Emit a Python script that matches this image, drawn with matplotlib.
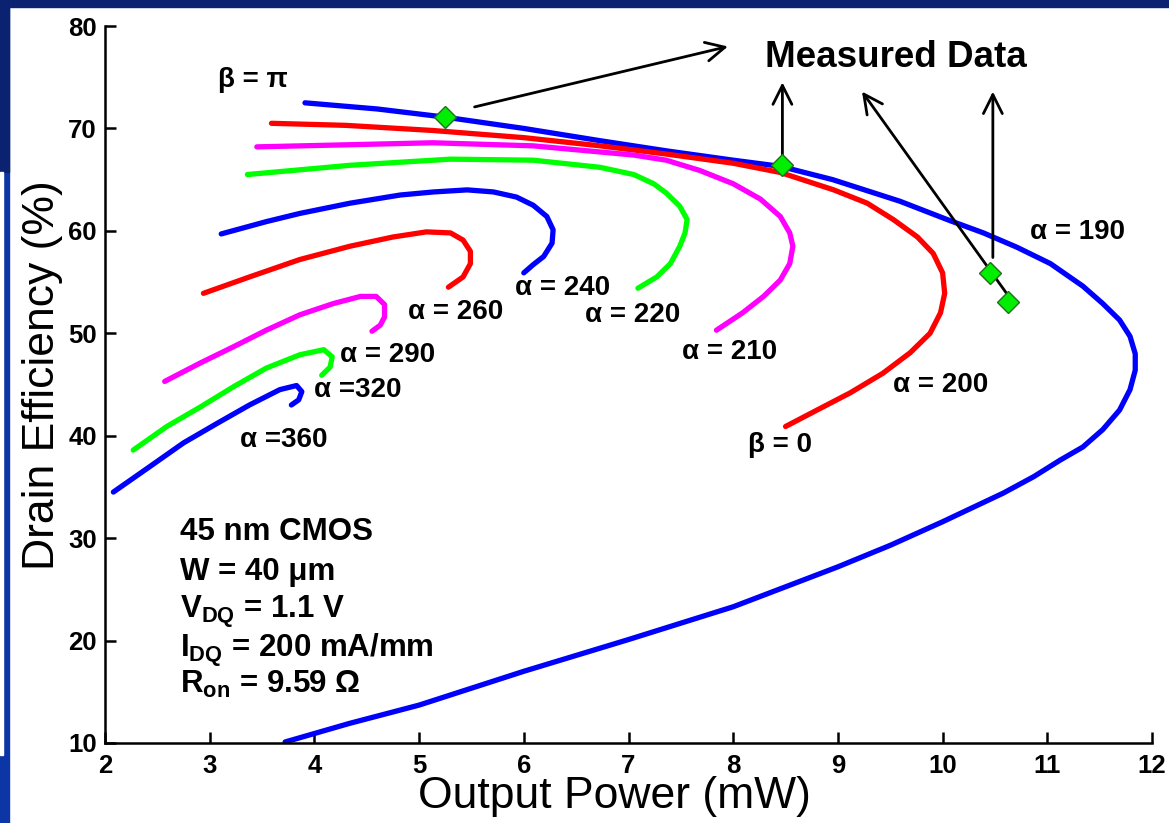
import matplotlib
matplotlib.use("Agg")
import matplotlib.pyplot as plt
from matplotlib.patches import Rectangle

plt.rcParams['font.family'] = ['Liberation Sans', 'DejaVu Sans']
plt.rcParams['mathtext.fontset'] = 'custom'
plt.rcParams['mathtext.rm'] = 'Liberation Sans'
plt.rcParams['mathtext.bf'] = 'Liberation Sans:bold'
plt.rcParams['mathtext.it'] = 'Liberation Sans:italic'

# curves: output power (mW) / drain efficiency (%)
a190_x = [3.91, 4.6, 5.25, 6.0, 6.73, 7.37, 8.0, 8.45, 8.95, 9.59, 10.07, 10.39, 10.71, 11.03,
          11.34, 11.53, 11.69, 11.79, 11.84, 11.84, 11.79, 11.69, 11.53, 11.34, 11.12, 10.87,
          10.58, 10.0, 9.5, 9.0, 8.0, 7.0, 6.0, 5.0, 4.33, 3.72]
a190_y = [72.5, 71.9, 71.1, 70.0, 68.8, 67.8, 66.9, 66.3, 65.0, 62.9, 61.0, 59.8, 58.4, 56.8,
          54.6, 52.9, 51.3, 49.7, 48.0, 46.4, 44.5, 42.5, 40.6, 38.9, 37.6, 36.0,
          34.4, 31.6, 29.3, 27.2, 23.3, 20.1, 17.0, 13.7, 11.9, 10.1]

a200_x = [3.59, 4.3, 5.13, 6.0, 6.73, 7.36, 8.0, 8.45, 8.96, 9.28, 9.53, 9.76, 9.91, 10.0,
          10.02, 9.98, 9.88, 9.69, 9.43, 9.12, 8.8, 8.5]
a200_y = [70.5, 70.3, 69.8, 69.1, 68.3, 67.5, 66.6, 65.7, 64.0, 62.7, 61.1, 59.4, 57.8, 55.9,
          53.9, 52.0, 50.0, 48.1, 46.1, 44.2, 42.5, 40.9]

a210_x = [3.45, 4.3, 5.13, 6.09, 6.73, 7.05, 7.36, 7.68, 8.0, 8.26, 8.45, 8.54, 8.57, 8.54,
          8.45, 8.29, 8.09, 7.84]
a210_y = [68.2, 68.4, 68.6, 68.3, 67.7, 67.4, 66.9, 65.9, 64.6, 63.1, 61.4, 59.8, 58.5, 56.8,
          55.2, 53.6, 52.0, 50.3]

a220_x = [3.36, 4.34, 5.30, 6.09, 6.73, 7.05, 7.24, 7.36, 7.49, 7.56, 7.54, 7.49, 7.40, 7.27, 7.09]
a220_y = [65.5, 66.4, 67.0, 66.9, 66.2, 65.5, 64.6, 63.7, 62.4, 61.1, 59.8, 58.5, 56.8, 55.5, 54.4]

a240_x = [3.11, 3.54, 3.86, 4.34, 4.82, 5.14, 5.46, 5.71, 5.93, 6.09, 6.22, 6.28, 6.27, 6.19, 6.09, 6.0]
a240_y = [59.7, 60.9, 61.7, 62.7, 63.5, 63.8, 64.0, 63.8, 63.3, 62.5, 61.4, 60.1, 58.8, 57.5, 56.7, 55.9]

a260_x = [2.94, 3.38, 3.86, 4.34, 4.75, 5.07, 5.30, 5.42, 5.49, 5.49, 5.42, 5.28]
a260_y = [53.9, 55.5, 57.2, 58.5, 59.4, 59.9, 59.8, 59.1, 58.0, 56.8, 55.5, 54.5]

a290_x = [2.57, 2.91, 3.23, 3.54, 3.86, 4.18, 4.44, 4.59, 4.67, 4.67, 4.63, 4.55]
a290_y = [45.3, 47.1, 48.7, 50.3, 51.8, 52.9, 53.6, 53.6, 52.8, 51.6, 50.8, 50.2]

a320_x = [2.27, 2.59, 2.91, 3.23, 3.54, 3.86, 4.09, 4.17, 4.15, 4.07]
a320_y = [38.6, 40.9, 42.8, 44.8, 46.6, 47.9, 48.4, 47.7, 46.7, 45.9]

a360_x = [2.08, 2.43, 2.75, 3.07, 3.38, 3.67, 3.83, 3.88, 3.85, 3.78]
a360_y = [34.5, 37.0, 39.3, 41.2, 43.0, 44.5, 44.9, 44.3, 43.5, 43.0]

meas_x = [5.25, 8.47, 10.45, 10.62]
meas_y = [71.1, 66.4, 55.9, 53.1]

curves = [
    (a190_x, a190_y, '#0000ff'),
    (a200_x, a200_y, '#ff0000'),
    (a210_x, a210_y, '#ff00ff'),
    (a220_x, a220_y, '#00ff00'),
    (a240_x, a240_y, '#0000ff'),
    (a260_x, a260_y, '#ff0000'),
    (a290_x, a290_y, '#ff00ff'),
    (a320_x, a320_y, '#00ff00'),
    (a360_x, a360_y, '#0000ff'),
]

# curve labels: text, left x, centre y
labels = [
    ('β = π', 3.08, 74.7),
    ('α = 190', 10.83, 59.9),
    ('α = 200', 9.53, 45.0),
    ('β = 0', 8.14, 39.1),
    ('α = 210', 7.51, 48.2),
    ('α = 220', 6.58, 51.8),
    ('α = 240', 5.92, 54.4),
    ('α = 260', 4.89, 52.1),
    ('α = 290', 4.24, 47.9),
    ('α =320', 4.00, 44.5),
    ('α =360', 3.29, 39.6),
]

info_lines = ['45 nm CMOS', r'W = 40 μm', r'V$_{\mathbf{DQ}}$ = 1.1 V',
              r'I$_{\mathbf{DQ}}$ = 200 mA/mm', r'R$_{\mathbf{on}}$ = 9.59 Ω']
info_base = [29.8, 25.9, 22.2, 18.4, 14.9]

# arrows from the measured points to the caption: (tail, head)
arrows = [((5.53, 72.1), (7.95, 78.0)),
          ((8.47, 67.4), (8.47, 74.5)),
          ((10.66, 53.2), (9.23, 73.6)),
          ((10.48, 57.4), (10.48, 73.6))]

fig = plt.figure(figsize=(11.69, 8.23), dpi=100)
fig.patch.set_facecolor('white')

# slide frame
fig.add_artist(Rectangle((0, 1 - 7 / 823), 1, 7 / 823, transform=fig.transFigure,
                         color='#0b2270', zorder=0))
fig.add_artist(Rectangle((0, 0), 9 / 1169, 1, transform=fig.transFigure,
                         color='#0c36a6', zorder=0))
fig.add_artist(Rectangle((0, 1 - 172 / 823), 9 / 1169, 172 / 823, transform=fig.transFigure,
                         color='#0b2270', zorder=0))
fig.add_artist(Rectangle((0, 68 / 823), 3 / 1169, 583 / 823,
                         transform=fig.transFigure, color='white', zorder=1))

ax = fig.add_axes([105 / 1169, 80 / 823, 1047 / 1169, 717 / 823])
ax.set_facecolor('none')

for cx, cy, col in curves:
    ax.plot(cx, cy, color=col, lw=3.8, solid_joinstyle='round', solid_capstyle='round', zorder=2)

ax.plot(meas_x, meas_y, 'D', ms=11, mfc='#00ee00', mec='#207020', mew=1, zorder=4)

for tail, head in arrows:
    ax.annotate('', xy=head, xytext=tail,
                arrowprops=dict(arrowstyle='->', color='black', lw=2,
                                mutation_scale=34, shrinkA=0, shrinkB=0), zorder=3)

ax.text(9.55, 76.9, 'Measured Data', fontsize=26.5, fontweight='bold', ha='center', va='center')

for txt, lx, ly in labels:
    ax.text(lx, ly, txt, fontsize=20, fontweight='bold', ha='left', va='center')

for line, yb in zip(info_lines, info_base):
    ax.text(2.72, yb, line, fontsize=22.5, fontweight='bold', ha='left', va='baseline')

ax.set_xlim(2, 12)
ax.set_ylim(10, 80)
ax.set_xticks(range(2, 13))
ax.set_yticks(range(10, 81, 10))
ax.spines['top'].set_visible(False)
ax.spines['right'].set_visible(False)
for s in ('left', 'bottom'):
    ax.spines[s].set_linewidth(1.8)
ax.tick_params(direction='in', length=8, width=1.8, labelsize=18.5)
ax.tick_params(axis='x', pad=8)
ax.tick_params(axis='y', pad=6)
for lab in ax.get_xticklabels() + ax.get_yticklabels():
    lab.set_fontweight('bold')

ax.set_xlabel('Output Power (mW)', fontsize=32)
ax.set_ylabel('Drain Efficiency (%)', fontsize=32)
ax.xaxis.set_label_coords(0.487, -0.046)
ax.yaxis.set_label_coords(-0.040, 0.513)

fig.savefig('out.png', dpi=100)
